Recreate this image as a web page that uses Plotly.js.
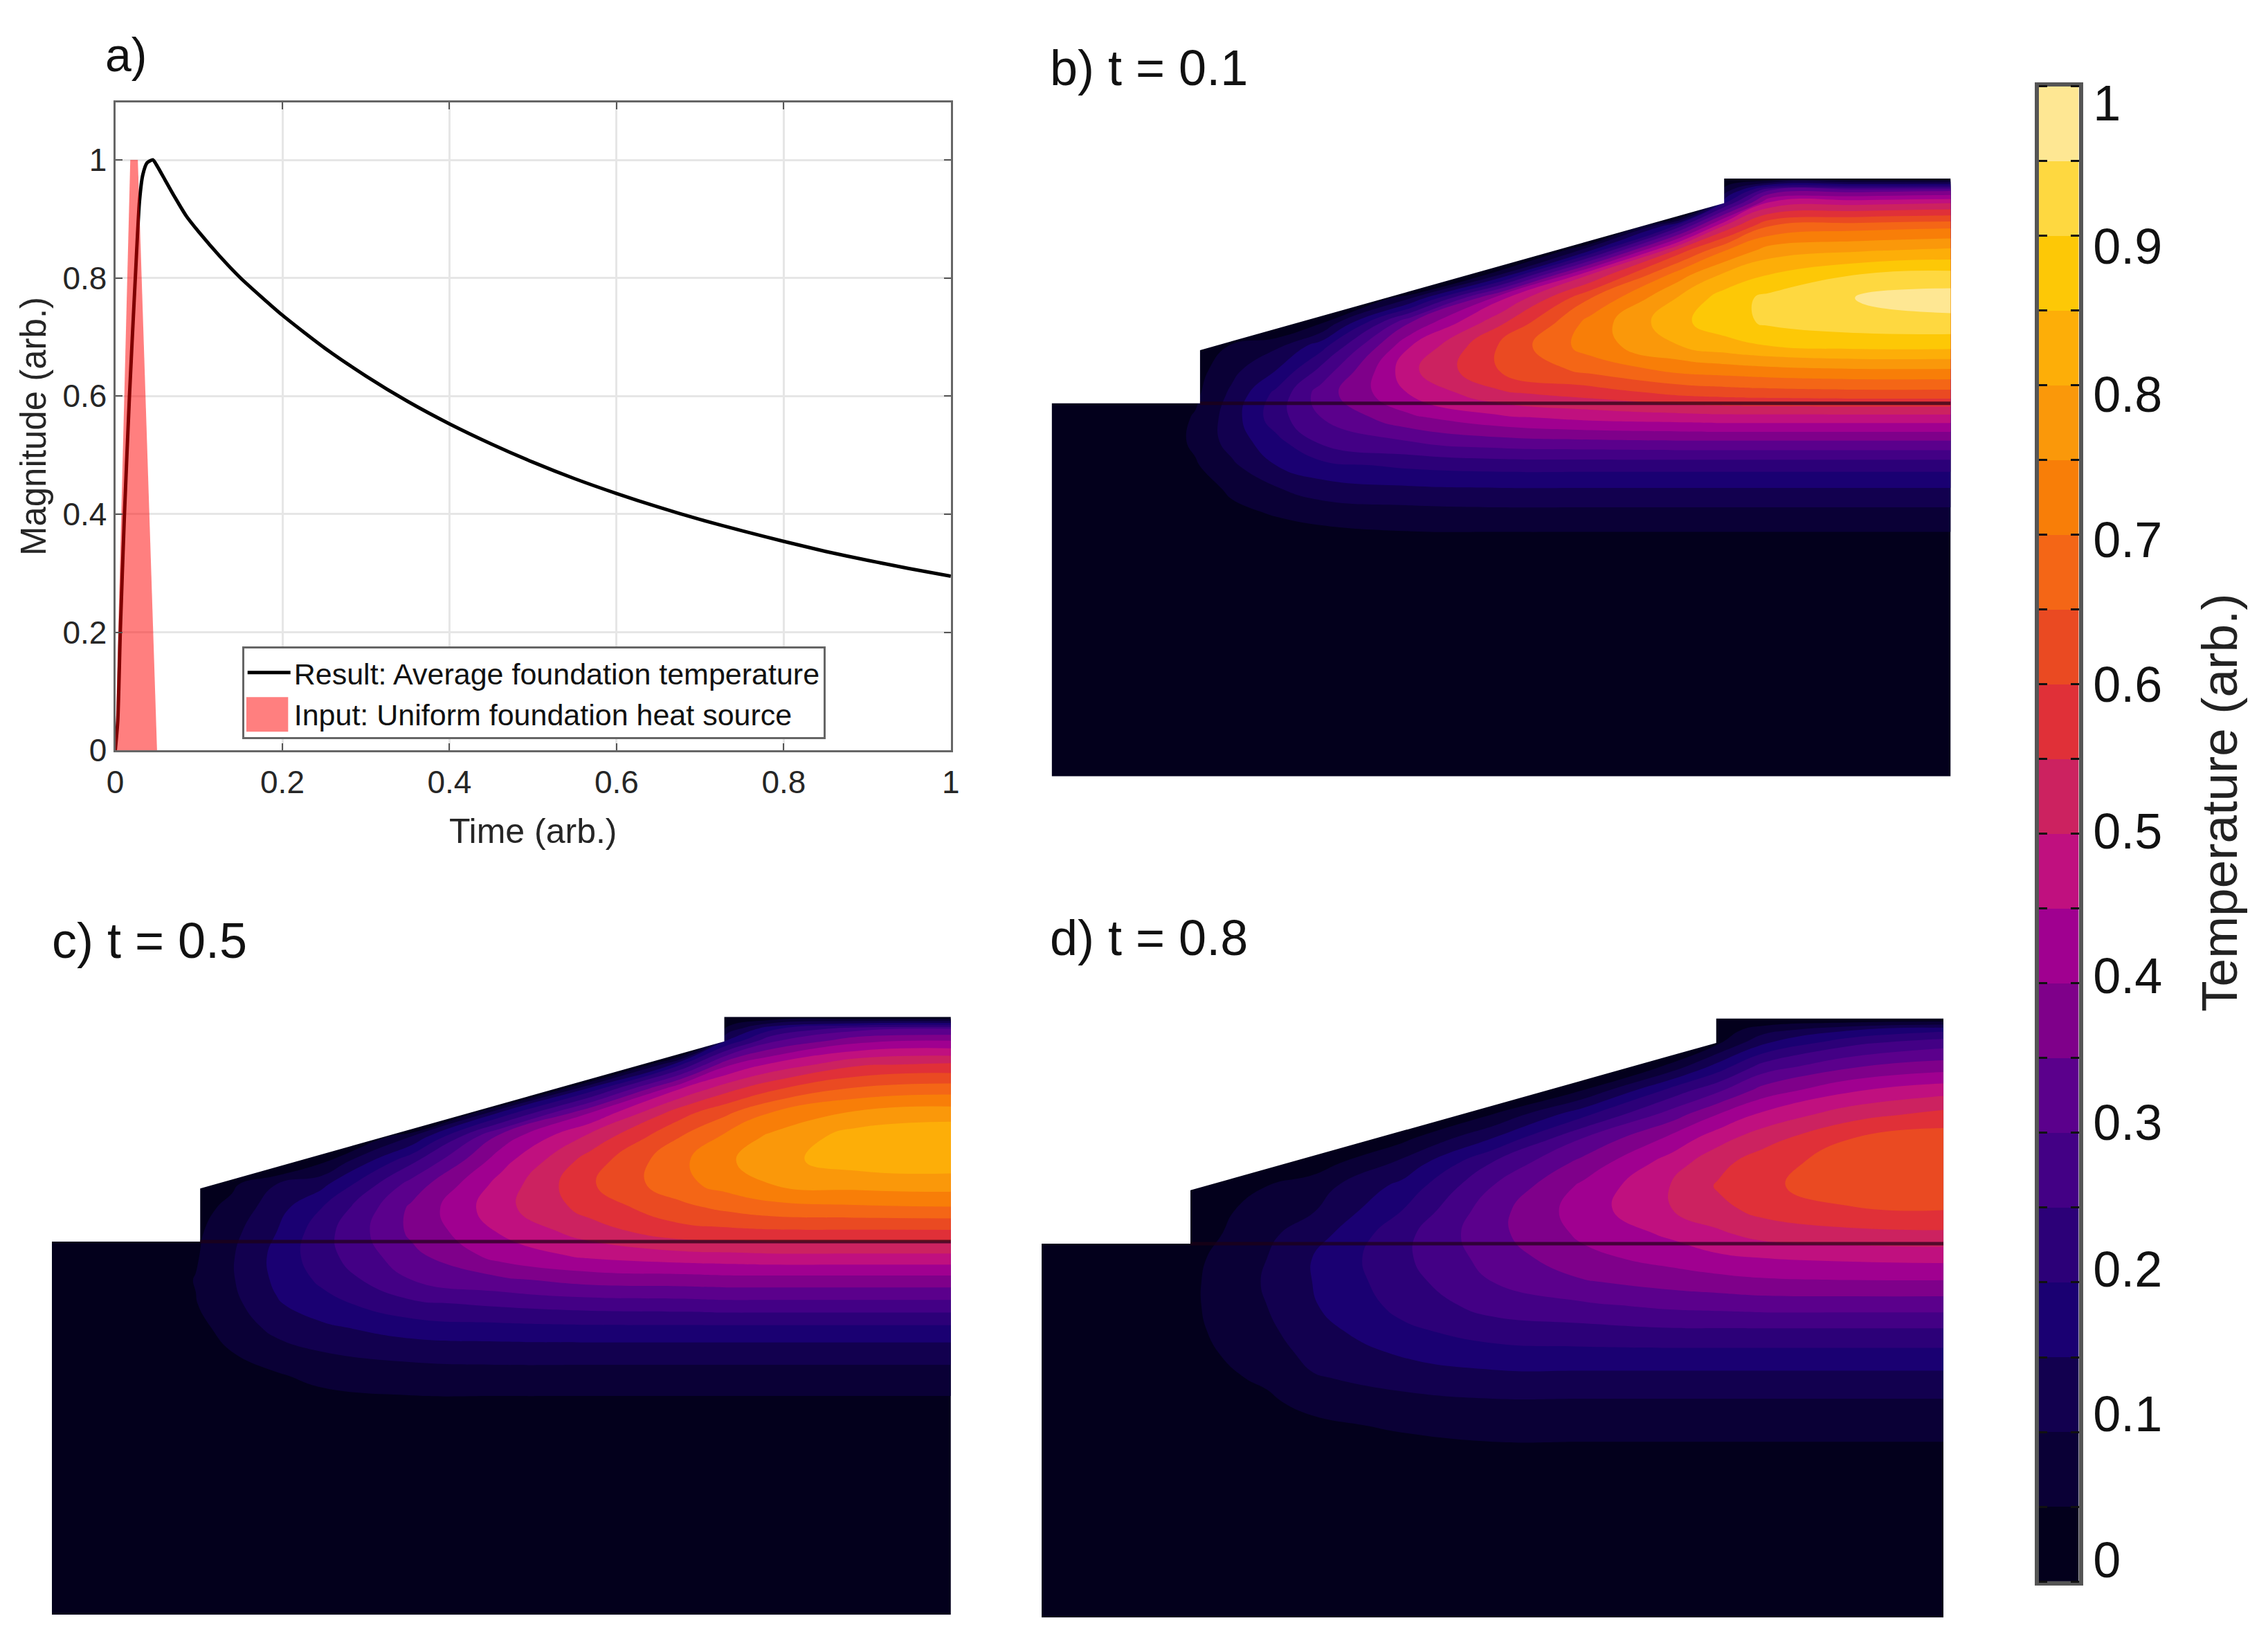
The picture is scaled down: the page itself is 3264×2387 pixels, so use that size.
<!DOCTYPE html>
<html><head><meta charset="utf-8"><script src="https://cdn.plot.ly/plotly-3.0.1.min.js"></script>
<style>html,body{margin:0;padding:0;background:#fff}</style></head><body><div id="g" style="width:3264px;height:2387px"></div>
<script>
// ---- panel a data
const timeResult=[0,.003,.006,.011,.017,.024,.029,.033,.038,.045,.05,.06,.07,.085,.1,.125,.15,.2,.25,.3,.35,.4,.45,.5,.55,.6,.65,.7,.75,.8,.85,.9,.95,1];
const magResult=[0,.05,.2,.4,.6,.8,.93,.975,.995,1,.99,.965,.94,.905,.878,.837,.8,.737,.682,.634,.591,.553,.519,.488,.46,.435,.412,.391,.372,.354,.337,.322,.308,.295];
const timeInput=[0,.018,.027,.05];
const magInput=[0,1,1,0];
const axisTicksA=[0,.2,.4,.6,.8,1];
const axisLabelsA=['0','0.2','0.4','0.6','0.8','1'];

// ---- shared geometry of the foundation cross section
const xCols=[0,.12,.16,.20,.25,.30,.40,.50,.60,.70,.75,.80,.90,1];
const airX=[-.01,.165,.165,.748,.748,-.01,-.01];
const airY=[.624,.624,.713,.959,1.01,1.01,.624];
const groundX=[.165,1];
const groundY=[.624,.624];

// ---- panel b: temperature, one list per column of xCols
const yRowsB=[0,.36,.40,.44,.48,.52,.56,.60,.64,.68,.72,.76,.80,.84,.88,.92,.96,.98,1];
const tempB=[
[0,0,0,0,0,0,0,0,0,0,0,0,0,0,0,0,0,0,0],
[0,0,0,0,.005,.015,.02,.02,.02,.015,0,-.1,-.1,-.1,-.1,-.1,-.1,-.1,-.1],
[0,0,0,.005,.02,.045,.06,.055,.04,.03,-.01,-.1,-.1,-.1,-.1,-.1,-.1,-.1,-.1],
[0,0,.01,.035,.06,.09,.12,.125,.11,.085,.06,-.24,-.24,-.24,-.24,-.24,-.24,-.24,-.24],
[0,0,.02,.055,.095,.15,.185,.23,.215,.15,.09,-.03,-.2,-.2,-.2,-.2,-.2,-.2,-.2],
[0,.01,.03,.07,.125,.185,.26,.30,.325,.265,.18,.04,-.12,-.2,-.2,-.2,-.2,-.2,-.2],
[0,.02,.04,.08,.14,.21,.30,.39,.455,.49,.45,.35,.10,-.23,-.23,-.23,-.23,-.23,-.23],
[0,.02,.04,.085,.145,.22,.33,.44,.54,.605,.61,.54,.44,.10,-.19,-.19,-.19,-.19,-.19],
[0,.02,.04,.085,.145,.22,.34,.465,.57,.665,.725,.72,.65,.50,.15,-.2,-.2,-.2,-.2],
[0,.02,.04,.085,.145,.22,.345,.475,.61,.715,.80,.84,.81,.73,.58,.25,-.28,-.28,-.28],
[0,.02,.04,.085,.145,.22,.345,.48,.62,.725,.83,.88,.875,.81,.70,.52,.2,.08,0],
[0,.02,.04,.085,.145,.22,.345,.48,.625,.735,.85,.91,.915,.85,.775,.655,.46,.31,0],
[0,.02,.04,.085,.145,.22,.345,.48,.63,.745,.865,.93,.955,.90,.795,.68,.48,.33,0],
[0,.02,.04,.085,.145,.22,.345,.48,.63,.745,.865,.935,.975,.915,.81,.69,.495,.345,0]];

// ---- panel c
const yRowsC=[0,.32,.36,.40,.44,.48,.52,.56,.60,.64,.68,.72,.76,.80,.84,.88,.92,.96,.98,1];
const tempC=[
[0,0,0,0,0,0,0,0,0,0,0,0,0,0,0,0,0,0,0,0],
[0,0,0,0,.005,.015,.02,.025,.02,.02,.015,0,-.1,-.1,-.1,-.1,-.1,-.1,-.1,-.1],
[0,0,0,.005,.015,.035,.048,.052,.045,.04,.03,-.01,-.1,-.1,-.1,-.1,-.1,-.1,-.1,-.1],
[0,0,.005,.025,.05,.07,.085,.095,.095,.085,.065,.04,-.16,-.16,-.16,-.16,-.16,-.16,-.16,-.16],
[0,.005,.025,.045,.08,.115,.145,.16,.165,.15,.13,.10,-.04,-.2,-.2,-.2,-.2,-.2,-.2,-.2],
[0,.01,.035,.065,.10,.14,.18,.21,.23,.23,.20,.135,.035,-.1,-.2,-.2,-.2,-.2,-.2,-.2],
[0,.015,.045,.075,.12,.175,.24,.30,.335,.36,.36,.32,.235,.10,-.23,-.23,-.23,-.23,-.23,-.23],
[0,.02,.045,.08,.125,.185,.26,.34,.42,.455,.485,.47,.43,.37,.16,-.24,-.24,-.24,-.24,-.24],
[0,.02,.045,.08,.125,.19,.275,.37,.46,.525,.57,.595,.575,.515,.40,.17,-.23,-.23,-.23,-.23],
[0,.025,.045,.08,.125,.19,.28,.375,.48,.58,.635,.685,.69,.65,.58,.45,.20,-.22,-.22,-.22],
[0,.025,.045,.08,.125,.19,.285,.38,.485,.585,.66,.72,.74,.71,.64,.53,.39,.15,.06,0],
[0,.025,.045,.08,.125,.19,.285,.38,.49,.59,.68,.75,.785,.76,.70,.59,.46,.29,.19,0],
[0,.025,.045,.08,.125,.19,.285,.38,.49,.59,.69,.77,.825,.825,.76,.66,.545,.385,.285,0],
[0,.025,.045,.08,.125,.19,.285,.38,.49,.59,.695,.775,.83,.84,.775,.675,.56,.40,.30,0]];

// ---- panel d
const yRowsD=[0,.24,.28,.32,.36,.40,.44,.48,.52,.56,.60,.64,.68,.72,.76,.80,.84,.88,.92,.96,.98,1];
const tempD=[
[0,0,0,0,0,0,0,0,0,0,0,0,0,0,0,0,0,0,0,0,0,0],
[0,0,0,0,0,0,.01,.02,.025,.025,.02,.015,.01,0,-.1,-.1,-.1,-.1,-.1,-.1,-.1,-.1],
[0,0,0,0,0,.01,.02,.03,.035,.035,.03,.025,.02,-.01,-.1,-.1,-.1,-.1,-.1,-.1,-.1,-.1],
[0,0,0,0,.01,.04,.052,.065,.07,.07,.065,.05,.04,.015,-.06,-.1,-.1,-.1,-.1,-.1,-.1,-.1],
[0,0,.005,.02,.04,.06,.075,.09,.10,.105,.10,.09,.075,.05,-.02,-.1,-.1,-.1,-.1,-.1,-.1,-.1],
[0,0,.01,.035,.07,.095,.115,.13,.145,.15,.15,.125,.095,.075,.02,-.06,-.1,-.1,-.1,-.1,-.1,-.1],
[0,.005,.025,.06,.085,.12,.155,.19,.215,.23,.24,.235,.20,.165,.11,.035,-.08,-.1,-.1,-.1,-.1,-.1],
[0,.01,.04,.07,.095,.135,.18,.225,.27,.30,.32,.335,.33,.30,.25,.15,.05,-.09,-.1,-.1,-.1,-.1],
[0,.015,.04,.07,.095,.135,.185,.235,.29,.345,.385,.41,.425,.41,.365,.30,.185,.05,-.07,-.1,-.1,-.1],
[0,.02,.04,.07,.095,.135,.185,.245,.31,.37,.42,.46,.50,.505,.475,.415,.325,.22,.07,-.08,-.1,-.1],
[0,.02,.04,.07,.095,.135,.185,.245,.315,.38,.44,.49,.535,.555,.535,.48,.40,.29,.17,.04,.02,0],
[0,.02,.04,.07,.095,.135,.185,.245,.32,.39,.45,.52,.565,.59,.575,.53,.46,.37,.27,.14,.08,0],
[0,.02,.04,.07,.095,.135,.185,.245,.32,.395,.46,.535,.595,.63,.63,.60,.53,.445,.345,.235,.15,0],
[0,.02,.04,.07,.095,.135,.185,.245,.32,.395,.465,.54,.60,.635,.645,.625,.565,.48,.375,.275,.19,0]];

// ---- colour bands and colour bar labels
const bandColors=['#03001C','#0A0036','#12004F','#1A0072','#2C0078','#430085','#5B008C','#7F008A','#A00090','#C0107F','#CC2260','#E03038','#EA4A22','#F46616','#F87E08','#FA980A','#FDAE08','#FDC806','#FED840','#FEE793'];
const bandLevels=bandColors.map((c,i)=>i*0.05);
const barLabels=['0','0.1','0.2','0.3','0.4','0.5','0.6','0.7','0.8','0.9','1'];
const barLabelPos=[.0145,.112,.209,.307,.405,.502,.6,.697,.794,.893,.989];

// ---- layout constants (in the 1568 x 1147 reference frame)
const W=1568,H=1147;
const dx=(a,b)=>[a/W,b/W], dy=(t,b)=>[1-b/H,1-t/H];
const step=[];bandColors.forEach((c,i)=>{step.push([i/20,c]);step.push([(i+1)/20,c]);});
const ramp=bandColors.map((c,i)=>[i/19,c]);
const transpose=m=>m[0].map((_,r)=>m.map(col=>col[r]));
const FONT='"Liberation Sans", Arial, sans-serif';

function fieldTraces(temp,yRows,n){
  const xa='x'+n, ya='y'+n;
  return [
   {type:'contour',x:xCols,y:yRows,z:transpose(temp),xaxis:xa,yaxis:ya,autocontour:false,
    contours:{start:.05,end:.95,size:.05,coloring:'fill',showlines:false},
    line:{smoothing:1.3,width:0},colorscale:ramp,showscale:false,showlegend:false,hoverinfo:'skip'},
   {type:'scatter',x:airX,y:airY,xaxis:xa,yaxis:ya,mode:'none',fill:'toself',fillcolor:'#ffffff',showlegend:false,hoverinfo:'skip'},
   {type:'scatter',x:groundX,y:groundY,xaxis:xa,yaxis:ya,mode:'lines',line:{color:'rgba(30,0,20,0.7)',width:5},showlegend:false,hoverinfo:'skip'}
  ];
}
const traces=[
 {type:'scatter',x:timeResult,y:magResult,mode:'lines',line:{color:'#000',width:5,shape:'spline',smoothing:.6},name:'Result: Average foundation temperature',xaxis:'x',yaxis:'y'},
 {type:'scatter',x:timeInput,y:magInput,mode:'lines',fill:'toself',fillcolor:'rgba(255,0,0,0.5)',line:{width:0},showlegend:false,xaxis:'x',yaxis:'y',hoverinfo:'skip'},
 {type:'scatter',x:[null],y:[null],mode:'lines',line:{color:'rgba(0,0,0,0)',width:1},name:'Input: Uniform foundation heat source',xaxis:'x',yaxis:'y'},
 ...fieldTraces(tempB,yRowsB,2),
 ...fieldTraces(tempC,yRowsC,3),
 ...fieldTraces(tempD,yRowsD,4),
 {type:'heatmap',x:[0],y:bandLevels.map(v=>v+.025),z:bandLevels.map(v=>[v+.025]),zmin:0,zmax:1,colorscale:step,showscale:false,showlegend:false,xaxis:'x5',yaxis:'y5',hoverinfo:'skip'}
];
const hiddenX=(d,anc)=>({domain:d,range:[-.002,1],visible:false,anchor:anc});
const hiddenY=(d,anc)=>({domain:d,range:[0,1.002],visible:false,anchor:anc});
const paperRect=(l,r,t,b,fill)=>({type:'rect',xref:'paper',yref:'paper',x0:l/W,x1:r/W,y0:1-b/H,y1:1-t/H,fillcolor:fill,line:{width:0},layer:'above'});
const layout={
 width:3264,height:2387,margin:{l:0,r:0,t:0,b:0},paper_bgcolor:'#fff',plot_bgcolor:'#fff',
 font:{family:FONT,color:'#262626',size:48},
 xaxis:{domain:dx(80,660),range:[0,1],tickvals:axisTicksA,ticktext:axisLabelsA,ticks:'inside',ticklen:10,tickwidth:2,tickcolor:'#555',
  showline:true,linecolor:'#666',linewidth:3,mirror:'ticks',showgrid:true,gridcolor:'#e6e6e6',gridwidth:3,zeroline:false,anchor:'y',ticklabelstandoff:4,
  tickfont:{size:46,color:'#262626'},title:{text:'Time (arb.)',font:{size:50,color:'#262626'},standoff:28}},
 yaxis:{domain:dy(71,521),range:[0,1.0976],tickvals:axisTicksA,ticktext:axisLabelsA,ticks:'inside',ticklen:10,tickwidth:2,tickcolor:'#555',
  showline:true,linecolor:'#666',linewidth:3,mirror:'ticks',showgrid:true,gridcolor:'#e6e6e6',gridwidth:3,zeroline:false,anchor:'x',
  tickfont:{size:46,color:'#262626'},title:{text:'Magnitude (arb.)',font:{size:51,color:'#262626'},standoff:8}},
 xaxis2:hiddenX(dx(728.75,1354),'y2'),yaxis2:hiddenY(dy(123.2,539),'x2'),
 xaxis3:hiddenX(dx(34.75,660),'y3'),yaxis3:hiddenY(dy(705.2,1121),'x3'),
 xaxis4:hiddenX(dx(721.75,1349),'y4'),yaxis4:hiddenY(dy(706.2,1123),'x4'),
 xaxis5:{domain:dx(1415,1443),range:[-.5,.5],anchor:'y5',showticklabels:false,ticks:'',showline:true,linecolor:'#555',linewidth:6,mirror:true,showgrid:false,zeroline:false},
 yaxis5:{domain:dy(60,1098),range:[0,1],anchor:'x5',side:'right',tickvals:barLabelPos,ticktext:barLabels,ticks:'',ticklabelstandoff:0,
  minor:{dtick:.05,ticks:'inside',ticklen:12,tickwidth:3,tickcolor:'#111'},
  showline:true,linecolor:'#555',linewidth:6,mirror:'ticks',showgrid:false,zeroline:false,
  tickfont:{size:72,color:'#111'}},
 showlegend:true,
 legend:{x:168/W,y:1-449/H,xanchor:'left',yanchor:'top',bgcolor:'rgba(0,0,0,0)',bordercolor:'#666',borderwidth:3,font:{size:43,color:'#111'},itemwidth:62,tracegroupgap:0,traceorder:'normal'},
 shapes:[paperRect(168,573,450,512,'#fff'),paperRect(171,200,484,508,'rgba(255,0,0,0.5)')],
 annotations:[
  {text:'a)',xref:'paper',yref:'paper',x:72/W,y:1-38/H,xanchor:'left',yanchor:'middle',showarrow:false,font:{size:68,color:'#111'}},
  {text:'b) t = 0.1',xref:'paper',yref:'paper',x:728/W,y:1-47/H,xanchor:'left',yanchor:'middle',showarrow:false,font:{size:72,color:'#111'}},
  {text:'c) t = 0.5',xref:'paper',yref:'paper',x:35/W,y:1-653/H,xanchor:'left',yanchor:'middle',showarrow:false,font:{size:72,color:'#111'}},
  {text:'d) t = 0.8',xref:'paper',yref:'paper',x:728/W,y:1-651/H,xanchor:'left',yanchor:'middle',showarrow:false,font:{size:72,color:'#111'}},
  {text:'Temperature (arb.)',xref:'paper',yref:'paper',x:1540/W,y:1-557/H,xanchor:'center',yanchor:'middle',textangle:-90,showarrow:false,font:{size:73,color:'#222'}}
 ]
};
Plotly.newPlot('g',traces,layout,{displayModeBar:false,staticPlot:true});
</script></body></html>
